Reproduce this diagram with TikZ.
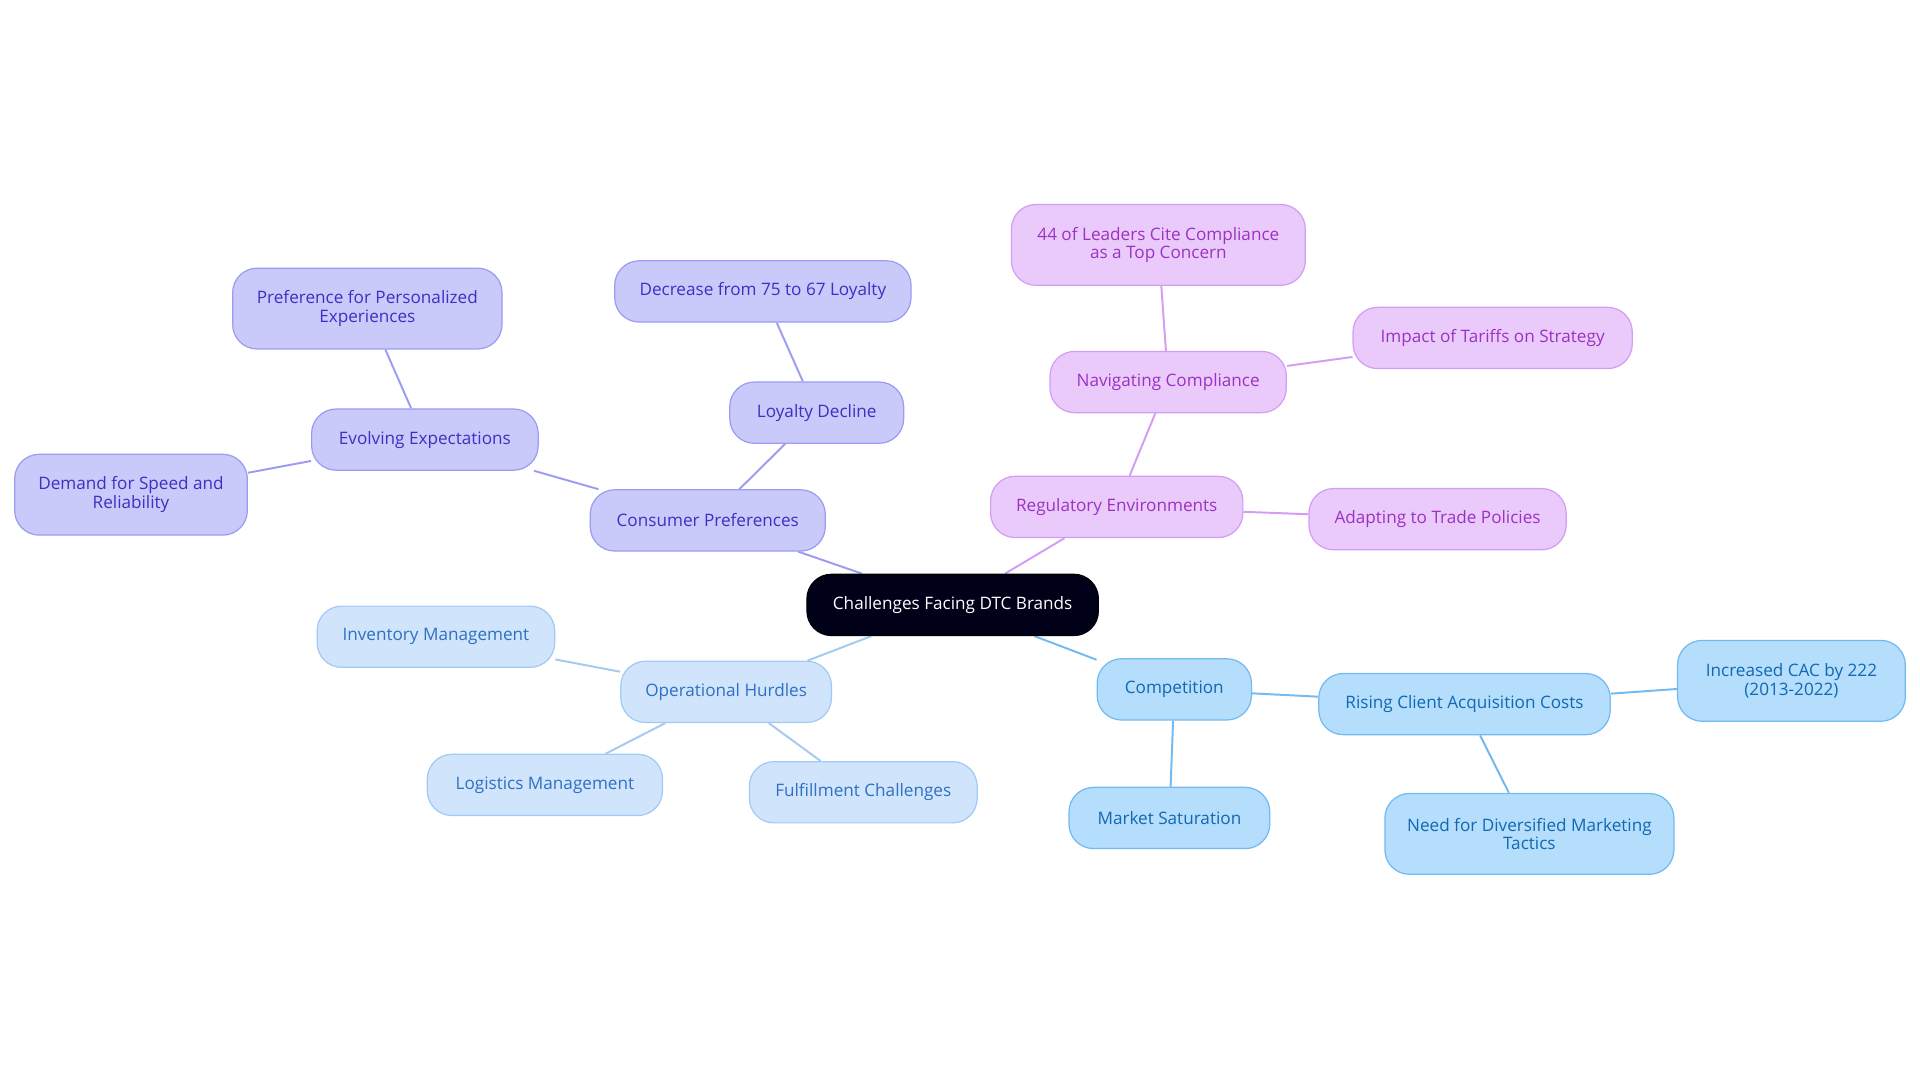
\documentclass[tikz,border=0pt]{standalone}
\usepackage{fontspec}
\setmainfont{Open Sans}
\usetikzlibrary{backgrounds}
\definecolor{pF}{HTML}{C9C9FA}\definecolor{pB}{HTML}{9C9CF0}\definecolor{pT}{HTML}{3A32C2}
\definecolor{oF}{HTML}{D0E4FB}\definecolor{oB}{HTML}{A3CAF2}\definecolor{oT}{HTML}{2F70C2}
\definecolor{cF}{HTML}{B4DEFB}\definecolor{cB}{HTML}{72BAF0}\definecolor{cT}{HTML}{1268B2}
\definecolor{rF}{HTML}{EACAFB}\definecolor{rB}{HTML}{D29DF2}\definecolor{rT}{HTML}{9C32C2}
\tikzset{
 base/.style={rounded corners=10pt,draw,line width=0.5pt,align=center,inner sep=0pt,minimum height=25pt,font=\fontsize{7}{7.6}\selectfont},
 P/.style={base,fill=pF,draw=pB,text=pT},
 O/.style={base,fill=oF,draw=oB,text=oT},
 C/.style={base,fill=cF,draw=cB,text=cT},
 R/.style={base,fill=rF,draw=rB,text=rT},
 two/.style={minimum height=33pt},
 eP/.style={draw=pB,line width=0.8pt},eO/.style={draw=oB,line width=0.8pt},
 eC/.style={draw=cB,line width=0.8pt},eR/.style={draw=rB,line width=0.8pt}
}
\begin{document}
\begin{tikzpicture}[x=0.5pt,y=-0.5pt]
\useasboundingbox (0,0) rectangle (1568,884);
\node[base,fill=black!90!blue,draw=black,text=white,minimum width=119pt] (c) at (778,494) {Challenges Facing DTC Brands};
\node[P,minimum width=96pt] (cp) at (578,425) {Consumer Preferences};
\node[P,minimum width=92.5pt] (ee) at (347,359) {Evolving Expectations};
\node[P,two,minimum width=110pt] (pp) at (300,252) {Preference for Personalized\\Experiences};
\node[P,two,minimum width=95pt] (ds) at (107,404) {Demand for Speed and\\Reliability};
\node[P,minimum width=71pt] (ld) at (667,337) {Loyalty Decline};
\node[P,minimum width=121pt] (dl) at (623,238) {Decrease from 75 to 67 Loyalty};
\node[R,minimum width=103pt] (re) at (912,414) {Regulatory Environments};
\node[R,minimum width=96.5pt] (nc) at (954,312) {Navigating Compliance};
\node[R,two,minimum width=120pt] (lc) at (946,200) {44 of Leaders Cite Compliance\\as a Top Concern};
\node[R,minimum width=114pt] (it) at (1219,276) {Impact of Tariffs on Strategy};
\node[R,minimum width=105pt] (at) at (1174,424) {Adapting to Trade Policies};
\node[O,minimum width=86pt] (oh) at (593,565) {Operational Hurdles};
\node[O,minimum width=97pt] (im) at (356,520) {Inventory Management};
\node[O,minimum width=96pt] (lm) at (445,641) {Logistics Management};
\node[O,minimum width=93pt] (fc) at (705,647) {Fulfillment Challenges};
\node[C,minimum width=63pt] (co) at (959,563) {Competition};
\node[C,minimum width=119pt] (rc) at (1196,575) {Rising Client Acquisition Costs};
\node[C,two,minimum width=93pt] (ic) at (1463,556) {Increased CAC by 222\\(2013-2022)};
\node[C,two,minimum width=118pt] (nd) at (1249,681) {Need for Diversified Marketing\\Tactics};
\node[C,minimum width=82pt] (ms) at (955,668) {Market Saturation};
\begin{scope}[on background layer]
\draw[eP] (c)--(cp); \draw[eP] (cp)--(ee); \draw[eP] (ee)--(pp); \draw[eP] (ee)--(ds);
\draw[eP] (cp)--(ld); \draw[eP] (ld)--(dl);
\draw[eR] (c)--(re); \draw[eR] (re)--(nc); \draw[eR] (nc)--(lc); \draw[eR] (nc)--(it); \draw[eR] (re)--(at);
\draw[eO] (c)--(oh); \draw[eO] (oh)--(im); \draw[eO] (oh)--(lm); \draw[eO] (oh)--(fc);
\draw[eC] (c)--(co); \draw[eC] (co)--(rc); \draw[eC] (rc)--(ic); \draw[eC] (rc)--(nd); \draw[eC] (co)--(ms);
\end{scope}
\end{tikzpicture}
\end{document}
